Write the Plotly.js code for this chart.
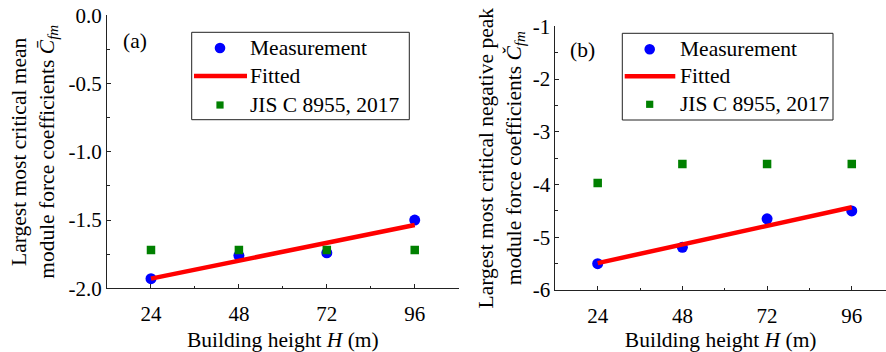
<!DOCTYPE html>
<html>
<head>
<meta charset="utf-8">
<script src="https://cdn.plot.ly/plotly-3.0.1.min.js"></script>
<style>
  html, body { margin: 0; padding: 0; background: #fff; }
  #chart { width: 886px; height: 352px; }
</style>
</head>
<body>
<div id="chart"></div>
<script>
// ---- data ----
const heights = [24, 48, 72, 96];
const measA = [-1.93, -1.76, -1.74, -1.50];
const jisA = [-1.72, -1.72, -1.72, -1.72];
const fitX = [24, 96];
const fitA = [-1.929, -1.536];

const measB = [-5.50, -5.19, -4.65, -4.50];
const jisB = [-3.97, -3.61, -3.61, -3.61];
const fitB = [-5.49, -4.43];

const xTicks = [24, 48, 72, 96];
const yTicksA = [-2.0, -1.5, -1.0, -0.5, 0.0];
const yTextA = ["-2.0", "-1.5", "-1.0", "-0.5", "0.0"];
const yTicksB = [-6, -5, -4, -3, -2, -1];
const yTextB = ["-6", "-5", "-4", "-3", "-2", "-1"];
const legendNames = ["Measurement", "Fitted", "JIS C 8955, 2017"];

const FONT = "Liberation Serif, Times New Roman, serif";
const AX = "#222";
const BLUE = '#0000ff', RED = '#ff0000', GREEN = '#008000';
const W = 886, H = 352;

function meas(x, y, xa, ya) {
  return { x: x, y: y, xaxis: xa, yaxis: ya, type: 'scatter', mode: 'markers',
    name: legendNames[0], marker: { color: BLUE, size: 11, symbol: 'circle' }, showlegend: false };
}
function fit(x, y, xa, ya) {
  return { x: x, y: y, xaxis: xa, yaxis: ya, type: 'scatter', mode: 'lines',
    name: legendNames[1], line: { color: RED, width: 4.5 }, showlegend: false };
}
function jis(x, y, xa, ya) {
  return { x: x, y: y, xaxis: xa, yaxis: ya, type: 'scatter', mode: 'markers',
    name: legendNames[2], marker: { color: GREEN, size: 8.5, symbol: 'square' }, showlegend: false };
}

const traces = [
  meas(heights, measA, 'x', 'y'),
  fit(fitX, fitA, 'x', 'y'),
  jis(heights, jisA, 'x', 'y'),
  meas(heights, measB, 'x2', 'y2'),
  fit(fitX, fitB, 'x2', 'y2'),
  jis(heights, jisB, 'x2', 'y2')
];

function xAxis(domain, range, anchor) {
  return {
    domain: domain, range: range, anchor: anchor,
    tickmode: 'array', tickvals: xTicks, ticktext: xTicks.map(String),
    ticks: 'inside', ticklen: 4, tickwidth: 1, tickcolor: AX,
    minor: { tickmode: 'linear', tick0: 12, dtick: 12, ticks: 'inside', ticklen: 2.5, tickcolor: AX, showgrid: false },
    showline: true, linecolor: AX, linewidth: 1, mirror: false,
    showgrid: false, zeroline: false, ticklabelstandoff: 7,
    tickfont: { family: FONT, size: 21, color: '#000' },
    title: { text: 'Building height <i>H</i> (m)', font: { family: FONT, size: 21.5, color: '#000' }, standoff: 6 }
  };
}
function yAxis(domain, range, anchor, tv, tt, minorDt, title, standoff) {
  return {
    domain: domain, range: range, anchor: anchor,
    tickmode: 'array', tickvals: tv, ticktext: tt,
    ticks: 'inside', ticklen: 4, tickwidth: 1, tickcolor: AX,
    minor: { tickmode: 'linear', tick0: range[0], dtick: minorDt, ticks: 'inside', ticklen: 2.5, tickcolor: AX, showgrid: false },
    showline: true, linecolor: AX, linewidth: 1, mirror: false,
    showgrid: false, zeroline: false,
    tickfont: { family: FONT, size: 21, color: '#000' },
    title: { text: title, font: { family: FONT, size: 21.5, color: '#000' }, standoff: standoff }
  };
}

// hand-drawn legend (box in pixel coords -> paper coords)
const shapes = [];
const annotations = [];
function px(x) { return x / W; }
function py(y) { return 1 - y / H; }
function legendBox(left, top, right, bottom, symX, lineX0, lineX1, textX, rowY) {
  shapes.push({ type: 'rect', xref: 'paper', yref: 'paper', x0: px(left), x1: px(right), y0: py(bottom), y1: py(top),
    line: { color: AX, width: 1 }, fillcolor: '#fff', layer: 'above' });
  const r = 5.3;
  shapes.push({ type: 'circle', xref: 'paper', yref: 'paper', x0: px(symX - r), x1: px(symX + r), y0: py(rowY[0] + r), y1: py(rowY[0] - r),
    line: { width: 0 }, fillcolor: BLUE, layer: 'above' });
  shapes.push({ type: 'line', xref: 'paper', yref: 'paper', x0: px(lineX0), x1: px(lineX1), y0: py(rowY[1]), y1: py(rowY[1]),
    line: { color: RED, width: 4.5 }, layer: 'above' });
  const s = 3.6;
  shapes.push({ type: 'rect', xref: 'paper', yref: 'paper', x0: px(symX - s), x1: px(symX + s), y0: py(rowY[2] + s), y1: py(rowY[2] - s),
    line: { width: 0 }, fillcolor: GREEN, layer: 'above' });
  legendNames.forEach(function (n, i) {
    annotations.push({ text: n, xref: 'paper', yref: 'paper', x: px(textX - 2), y: py(rowY[i]),
      xanchor: 'left', yanchor: 'middle', showarrow: false, font: { family: FONT, size: 21.5, color: '#000' } });
  });
}
legendBox(191.7, 32.3, 409.3, 119.7, 220, 194, 247, 250, [48, 76, 105]);
legendBox(622.3, 33.3, 833, 120, 649.7, 624.7, 675.3, 679.7, [49.3, 76.3, 104.3]);

annotations.push({ text: '(a)', xref: 'paper', yref: 'paper', x: px(121), y: py(40.7),
  xanchor: 'left', yanchor: 'middle', showarrow: false, font: { family: FONT, size: 21.5, color: '#000' } });
annotations.push({ text: '(b)', xref: 'paper', yref: 'paper', x: px(568), y: py(50),
  xanchor: 'left', yanchor: 'middle', showarrow: false, font: { family: FONT, size: 21.5, color: '#000' } });

const layout = {
  width: W, height: H,
  margin: { l: 0, r: 0, t: 0, b: 0, pad: 0 },
  paper_bgcolor: '#fff', plot_bgcolor: 'rgba(0,0,0,0)',
  font: { family: FONT, color: '#000' },
  xaxis: xAxis([0.1208, 0.5177], [12, 108], 'y'),
  yaxis: yAxis([0.1810, 0.9565], [-2, 0], 'x', yTicksA, yTextA, 0.25,
    'Largest most critical mean<br>module force coefficients <i>C̄</i><sub><i>fm</i></sub>', 8),
  xaxis2: xAxis([0.6268, 1.0], [12, 105.7], 'y2'),
  yaxis2: yAxis([0.1761, 0.9253], [-6, -1], 'x2', yTicksB, yTextB, 0.5,
    'Largest most critical negative peak<br>module force coefficients <i>Č</i><sub><i>fm</i></sub>', 5),
  shapes: shapes,
  annotations: annotations,
  showlegend: false
};

Plotly.newPlot('chart', traces, layout, { displayModeBar: false, staticPlot: true });
</script>
</body>
</html>
